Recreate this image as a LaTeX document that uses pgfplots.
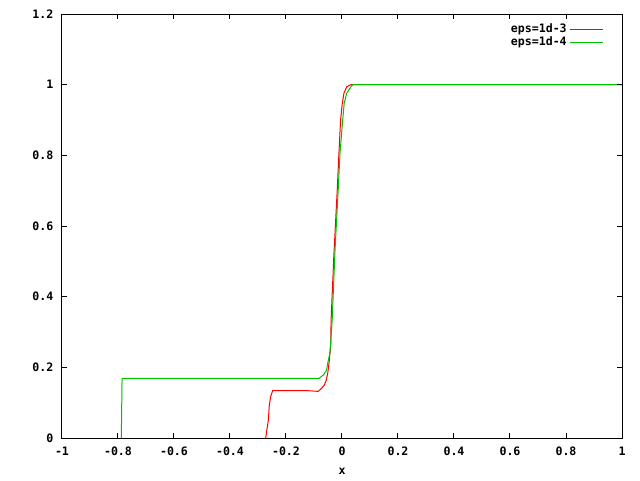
\documentclass[border=0pt]{standalone}
\usepackage{pgfplots}
\pgfplotsset{compat=1.18}
\usepackage{fontspec}
\setmonofont{DejaVu Sans Mono}
\definecolor{gpred}{HTML}{FF0000}
\definecolor{gpgreen}{HTML}{00C000}

\begin{document}
\begin{tikzpicture}
% picture frame: 640x480 px at 0.75pt per px
\path[use as bounding box] (-46.5pt,-31.5pt) rectangle (433.5pt,328.5pt);
\begin{axis}[
    scale only axis,
    axis on top,
    width=420pt, height=318pt,
    xmin=-1, xmax=1, ymin=0, ymax=1.2,
    xtick={-1,-0.8,-0.6,-0.4,-0.2,0,0.2,0.4,0.6,0.8,1},
    xticklabels={-1,-0.8,-0.6,-0.4,-0.2,0,0.2,0.4,0.6,0.8,1},
    ytick={0,0.2,0.4,0.6,0.8,1,1.2},
    yticklabels={0,0.2,0.4,0.6,0.8,1,1.2},
    tick align=inside,
    major tick length=4pt,
    tick style={black, line width=0.75pt},
    axis line style={black, line width=0.75pt},
    tick label style={font=\fontsize{8.7}{10}\selectfont\ttfamily\bfseries},
    xticklabel style={yshift=-3.5pt},
    yticklabel style={xshift=-3pt},
    xlabel={x},
    xlabel style={font=\fontsize{8.7}{10}\selectfont\ttfamily\bfseries, yshift=-2pt},
    legend style={draw=none, fill=none, at={(0.975,0.99)}, anchor=north east,
        font=\fontsize{8.7}{10}\selectfont\ttfamily\bfseries,
        row sep=-2.5pt},
    legend cell align=right,
    legend plot pos=right,
    legend image code/.code={\draw[#1] (0pt,0pt) -- (25pt,0pt);},
]
\addplot[gpred, line width=0.75pt] coordinates {
    (-0.2725,0) (-0.263,0.051) (-0.260,0.089) (-0.255,0.117)
    (-0.2475,0.134) (-0.124,0.134) (-0.0846,0.132) (-0.0725,0.141)
    (-0.063,0.150) (-0.056,0.164) (-0.051,0.183) (-0.045,0.221)
    (-0.043,0.240) (-0.040,0.268) (-0.039,0.334) (-0.029,0.518)
    (-0.017,0.702) (-0.011,0.806) (-0.005,0.900) (0.001,0.947)
    (0.007,0.976) (0.017,0.994) (0.032,1.0) (1,1.0)
};
\addlegendentry{eps=1d-3\hspace{6pt}}
\addplot[gpgreen, line width=0.75pt] coordinates {
    (-0.7880,0) (-0.7875,0.04) (-0.7855,0.169) (-0.082,0.169)
    (-0.067,0.178) (-0.055,0.192) (-0.051,0.212) (-0.043,0.241)
    (-0.035,0.334) (-0.025,0.53) (-0.013,0.711) (-0.007,0.807)
    (0.0025,0.900) (0.008,0.948) (0.017,0.976) (0.032,0.994)
    (0.039,1.0) (1,1.0)
};
\addlegendentry{eps=1d-4\hspace{6pt}}
\end{axis}
\end{tikzpicture}
\end{document}
